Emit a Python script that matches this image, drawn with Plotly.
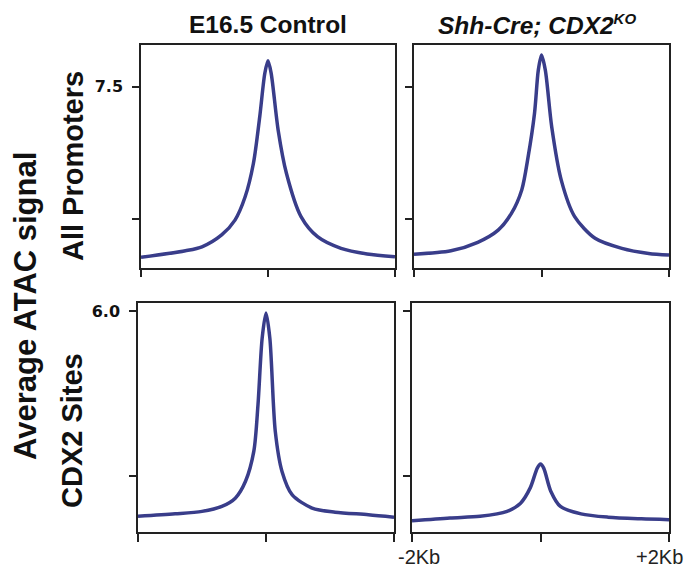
import plotly.graph_objects as go

# ---- data (position relative to site, kb) ----
x_prom_ctrl = [-2, -1.30, -1.04, -0.73, -0.52, -0.36, -0.23, -0.13, -0.05, 0, 0.05, 0.16, 0.29, 0.52, 0.78, 1.15, 1.56, 2.0]
y_prom_ctrl = [1.05, 1.30, 1.45, 1.90, 2.46, 3.34, 4.60, 6.37, 8.01, 8.48, 8.01, 5.86, 4.23, 2.59, 1.83, 1.39, 1.18, 1.07]

x_prom_ko = [-2, -1.42, -1.0, -0.68, -0.47, -0.31, -0.21, -0.11, -0.05, 0, 0.06, 0.16, 0.31, 0.52, 0.84, 1.26, 1.68, 2.0]
y_prom_ko = [1.17, 1.30, 1.62, 2.08, 2.72, 3.60, 4.85, 6.49, 8.13, 8.70, 8.13, 5.99, 3.97, 2.59, 1.77, 1.39, 1.20, 1.14]

x_cdx_ctrl = [-2, -1.42, -1.0, -0.69, -0.48, -0.32, -0.19, -0.125, -0.06, 0, 0.06, 0.145, 0.25, 0.41, 0.72, 1.08, 1.60, 2.0]
y_cdx_ctrl = [1.03, 1.09, 1.15, 1.27, 1.47, 1.88, 2.61, 3.74, 5.35, 5.96, 5.35, 3.09, 2.12, 1.55, 1.23, 1.13, 1.07, 1.01]

x_cdx_ko = [-2, -1.41, -0.94, -0.52, -0.31, -0.16, -0.05, 0, 0.05, 0.16, 0.31, 0.63, 1.05, 1.57, 2.0]
y_cdx_ko = [0.92, 0.99, 1.03, 1.15, 1.35, 1.72, 2.20, 2.30, 2.20, 1.64, 1.27, 1.09, 1.01, 0.97, 0.95]

col_titles = ["E16.5 Control",
              "<i>Shh-Cre; CDX2<sup><span style='font-size:15px'>KO</span></sup></i>"]
row_titles = ["All Promoters", "CDX2 Sites"]
y_label = "Average ATAC signal"
x_ticks = [-2, 0, 2]
x_end_labels = ["-2Kb", "+2Kb"]
prom_ticks = [2.5, 7.5]
prom_ticktext = ["", "7.5"]
cdx_ticks = [2.0, 6.0]
cdx_ticktext = ["", "6.0"]

W, H = 690, 569
LINE = "#393d8a"
AX = "#222222"
FONT = "Liberation Sans, Arial, sans-serif"
TICKFONT = "DejaVu Sans, sans-serif"

fig = go.Figure()
series = [(x_prom_ctrl, y_prom_ctrl, "x", "y"),
          (x_prom_ko, y_prom_ko, "x2", "y2"),
          (x_cdx_ctrl, y_cdx_ctrl, "x3", "y3"),
          (x_cdx_ko, y_cdx_ko, "x4", "y4")]
for xs, ys, xa, ya in series:
    fig.add_trace(go.Scatter(x=xs, y=ys, xaxis=xa, yaxis=ya, mode="lines",
                             line=dict(color=LINE, width=3.5, shape="spline", smoothing=0.8),
                             showlegend=False, hoverinfo="skip"))

def px_x(a, b):
    return [a / W, b / W]

def px_y(top, bottom):
    return [1 - bottom / H, 1 - top / H]

common_x = dict(range=[-2, 2], tickvals=x_ticks, showticklabels=False, ticks="outside",
                ticklen=8, tickwidth=1.5, tickcolor=AX, showline=True, linecolor=AX,
                linewidth=1.5, mirror=True, showgrid=False, zeroline=False, fixedrange=True)
common_y = dict(ticks="outside", ticklen=7, tickwidth=1.5, tickcolor=AX, showline=True,
                linecolor=AX, linewidth=1.5, mirror=True, showgrid=False, zeroline=False,
                ticklabelstandoff=6,
                tickfont=dict(family=TICKFONT, size=16, color="#111111", weight="bold"),
                fixedrange=True)

prom_range = [0.667, 9.08]
cdx_range = [0.65, 6.21]

fig.update_layout(
    width=W, height=H, margin=dict(l=0, r=0, t=0, b=0),
    paper_bgcolor="white", plot_bgcolor="white",
    xaxis=dict(domain=px_x(141, 395), anchor="y", **common_x),
    yaxis=dict(domain=px_y(45, 267.5), anchor="x", range=prom_range, tickvals=prom_ticks,
               ticktext=prom_ticktext, **common_y),
    xaxis2=dict(domain=px_x(414, 669), anchor="y2", **common_x),
    yaxis2=dict(domain=px_y(45, 267.5), anchor="x2", range=prom_range, tickvals=prom_ticks,
                showticklabels=False, **common_y),
    xaxis3=dict(domain=px_x(138, 394), anchor="y3", **common_x),
    yaxis3=dict(domain=px_y(302.7, 532), anchor="x3", range=cdx_range, tickvals=cdx_ticks,
                ticktext=cdx_ticktext, **common_y),
    xaxis4=dict(domain=px_x(412, 669), anchor="y4", **common_x),
    yaxis4=dict(domain=px_y(302.7, 532), anchor="x4", range=cdx_range, tickvals=cdx_ticks,
                showticklabels=False, **common_y),
)

def ann(text, x, y, size, angle=0, xref="paper", xshift=0, bold=True, color="#111111"):
    f = dict(family=FONT, size=size, color=color)
    if bold:
        f["weight"] = "bold"
    return dict(text=text, x=x, y=y, xref=xref, yref="paper", xanchor="center",
                yanchor="middle", textangle=angle, xshift=xshift, showarrow=False, font=f)

anns = [
    ann(col_titles[0], 268 / W, 1 - 24 / H, 24.5),
    ann(col_titles[1], 537 / W, 1 - 24 / H, 24.5),
    ann(row_titles[0], 73 / W, 1 - 166 / H, 29, angle=-90),
    ann(row_titles[1], 72 / W, 1 - 431 / H, 29, angle=-90),
    ann(y_label, 25 / W, 1 - 306 / H, 31, angle=-90),
    ann(x_end_labels[0], x_ticks[0], 1 - 557 / H, 20, xref="x4", xshift=7, bold=False, color="#222222"),
    ann(x_end_labels[1], x_ticks[-1], 1 - 557 / H, 20, xref="x4", xshift=-10, bold=False, color="#222222"),
]
fig.update_layout(annotations=anns)

fig.write_html("out.html", post_script="document.body.style.margin='0';",
               config={"displayModeBar": False})
